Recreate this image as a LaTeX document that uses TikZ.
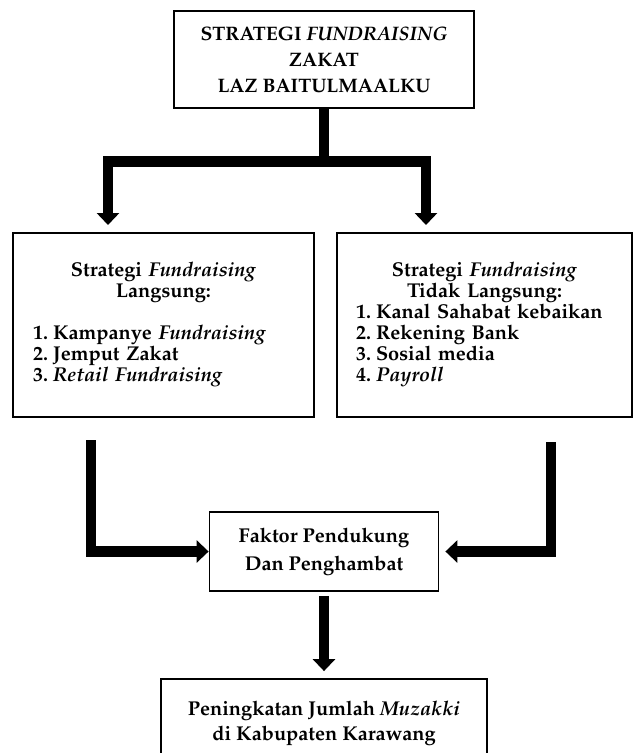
\documentclass[tikz,border=0pt]{standalone}
\usepackage[T1]{fontenc}
\usepackage{mathpazo}
\usetikzlibrary{arrows.meta}
\tikzset{
  kotak/.style={draw, line width=1.8pt, inner sep=0pt, font=\fontsize{20}{21}\selectfont\bfseries},
  panah/.style={line width=10.5pt, line join=miter, -{Triangle[width=22pt,length=12pt]}},
}
\newcommand{\nomor}[1]{\makebox[20pt][l]{#1}}

\begin{document}
\begin{tikzpicture}[x=1pt,y=-1pt]
\useasboundingbox (0,0) rectangle (633,753);
\node[kotak, minimum width=300pt, minimum height=97pt, align=center, font=\fontsize{19.5}{26}\selectfont\bfseries] (judul) at (324,59.5) {STRATEGI \textit{FUNDRAISING}\\ZAKAT\\LAZ BAITULMAALKU};
\node[kotak, text width=261pt, inner xsep=20pt, minimum height=184pt] (langsung) at (163.5,325) {\parindent0pt{\centering Strategi \textit{Fundraising}\\ Langsung:\par}\vspace{21pt}\raggedright
\nomor{1.}Kampanye \textit{Fundraising}\\
\nomor{2.}Jemput Zakat\\
\nomor{3.}\textit{Retail Fundraising}};
\node[kotak, text width=257pt, inner xsep=19pt, minimum height=184pt] (tdklangsung) at (484.5,325) {\parindent0pt{\centering Strategi \textit{Fundraising}\\ Tidak Langsung:\par}\raggedright
\nomor{1.}Kanal Sahabat kebaikan\\
\nomor{2.}Rekening Bank\\
\nomor{3.}Sosial media\\
\nomor{4.}\textit{Payroll}};
\node[kotak, minimum width=229pt, minimum height=79pt, align=center, font=\fontsize{20}{28}\selectfont\bfseries] (faktor) at (324,551.5) {Faktor Pendukung\\Dan Penghambat};
\node[kotak, minimum width=326pt, minimum height=88pt, align=center, font=\fontsize{20}{25}\selectfont\bfseries] (hasil) at (324,723) {Peningkatan Jumlah \textit{Muzakki}\\di Kabupaten Karawang};

\coordinate (cabang) at (324,161.5);
\coordinate (kiri) at (108,225);
\coordinate (kanan) at (426,225);
\coordinate (kiriatas) at (91,440);
\coordinate (kananatas) at (551,442);
\draw[panah] (judul.south) -- (cabang) -| (kiri);
\draw[panah] (cabang) -| (kanan);
\draw[panah] (kiriatas) |- (faktor.west);
\draw[panah, shorten >=6pt] (kananatas) |- (faktor.east);
\draw[panah, shorten <=4pt, shorten >=7pt] (faktor.south) -- (hasil.north);
\end{tikzpicture}
\end{document}
